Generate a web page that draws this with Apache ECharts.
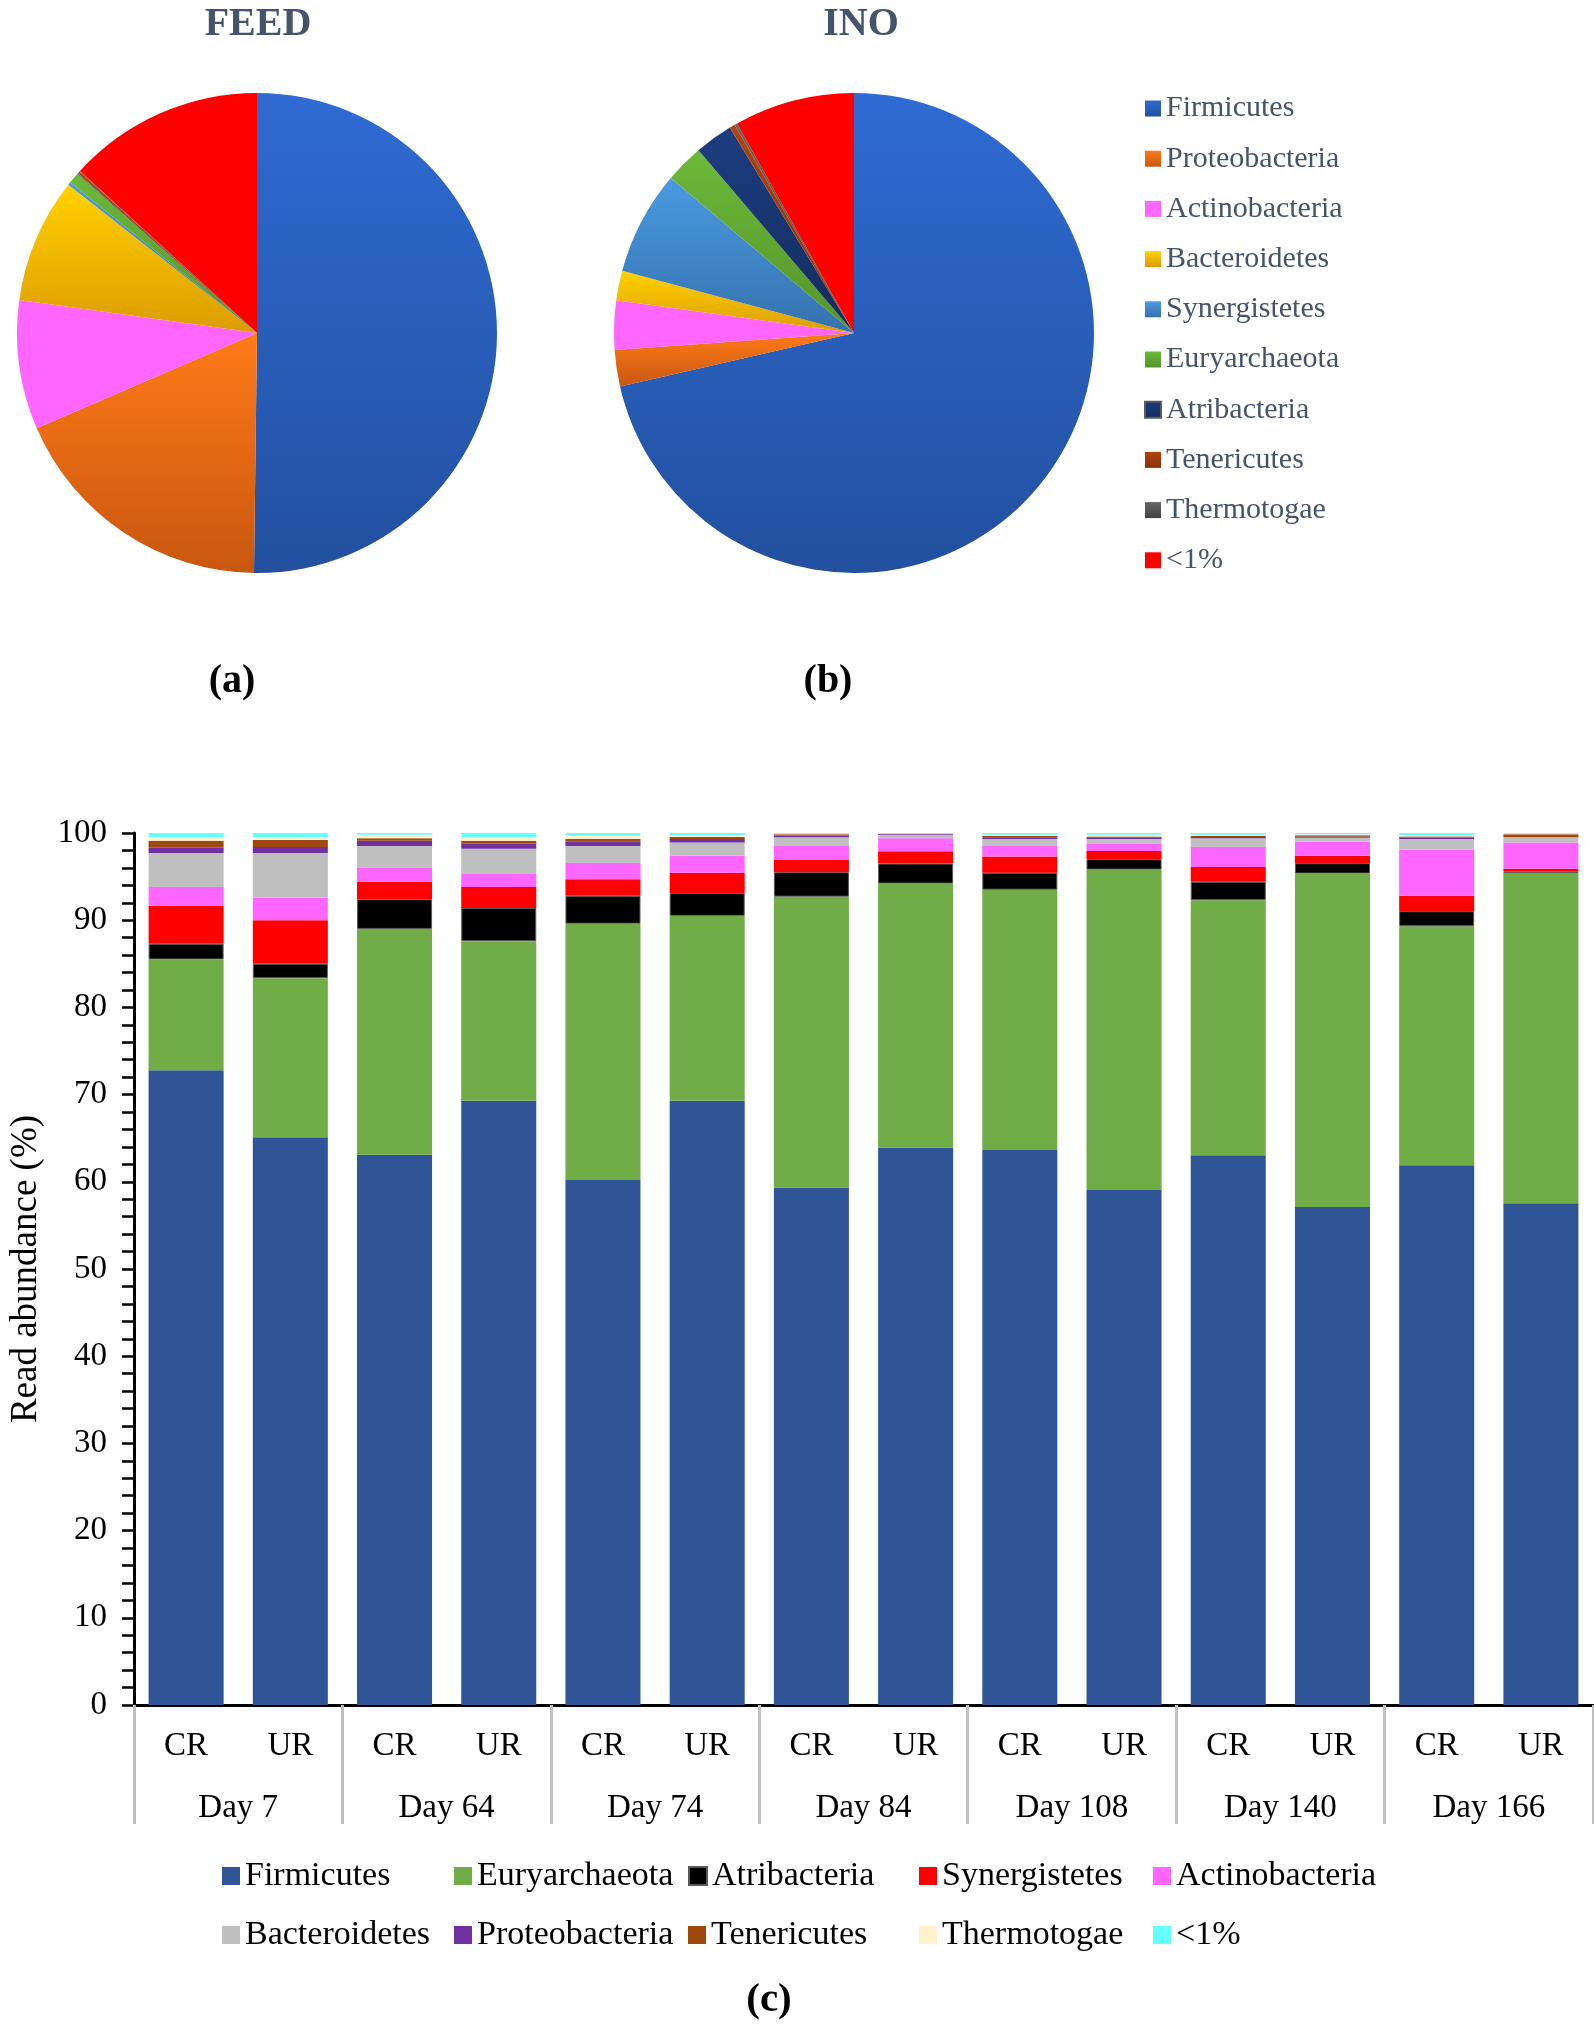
<!DOCTYPE html>
<html>
<head>
<meta charset="utf-8">
<script src="https://cdn.jsdelivr.net/npm/echarts@6/dist/echarts.min.js"></script>
<style>
html,body{margin:0;padding:0;background:#fff;}
#chart{width:1594px;height:2024px;}
</style>
</head>
<body>
<div id="chart"></div>
<script>
// ---------- Pie data (a) FEED and (b) INO ----------
const pieNames = ['Firmicutes','Proteobacteria','Actinobacteria','Bacteroidetes','Synergistetes','Euryarchaeota','Atribacteria','Tenericutes','Thermotogae','<1%'];
const feedValues = [50.2, 18.3, 8.7, 8.4, 0.2, 0.75, 0.05, 0.15, 0.05, 13.2];
const inoValues  = [71.4, 2.45, 3.3, 2.0, 7.0, 2.6, 2.57, 0.37, 0.18, 8.1];

// ---------- Stacked bar data (c) ----------
const sampleLabels = ['CR','UR','CR','UR','CR','UR','CR','UR','CR','UR','CR','UR','CR','UR'];
const dayLabels = ['Day 7','Day 64','Day 74','Day 84','Day 108','Day 140','Day 166'];
const barNames = ['Firmicutes','Euryarchaeota','Atribacteria','Synergistetes','Actinobacteria','Bacteroidetes','Proteobacteria','Tenericutes','Thermotogae','<1%'];
const firmicutes     = [72.8, 65.1, 63.1, 69.3, 60.2, 69.3, 59.35, 63.9, 63.65, 59.05, 63.05, 57.1, 61.9, 57.55];
const euryarchaeota  = [12.7, 18.25, 25.9, 18.3, 29.4, 21.2, 33.35, 30.3, 29.85, 36.75, 29.25, 38.25, 27.4, 37.85];
const atribacteria   = [1.8, 1.65, 3.4, 3.8, 3.2, 2.6, 2.8, 2.3, 1.95, 1.2, 2.1, 1.2, 1.75, 0.2];
const synergistetes  = [4.35, 5.0, 2.0, 2.4, 1.9, 2.35, 1.4, 1.4, 1.85, 0.95, 1.7, 0.85, 1.75, 0.3];
const actinobacteria = [2.15, 2.6, 1.6, 1.5, 1.85, 1.95, 1.7, 1.5, 1.2, 0.8, 2.3, 1.6, 5.3, 3.0];
const bacteroidetes  = [3.9, 5.1, 2.5, 2.9, 1.95, 1.5, 0.9, 0.4, 0.8, 0.55, 1.0, 0.45, 1.2, 0.6];
const proteobacteria = [0.6, 0.7, 0.6, 0.6, 0.5, 0.4, 0.2, 0.1, 0.2, 0.2, 0.15, 0.15, 0.15, 0.05];
const tenericutes    = [0.8, 0.8, 0.3, 0.3, 0.3, 0.25, 0.15, 0.05, 0.15, 0.1, 0.1, 0.15, 0.15, 0.3];
const thermotogae    = [0.4, 0.3, 0.4, 0.45, 0.4, 0.2, 0.05, 0.05, 0.15, 0.2, 0.15, 0.1, 0.15, 0.05];
const lessThan1      = [0.5, 0.5, 0.2, 0.45, 0.3, 0.25, 0.1, 0.15, 0.2, 0.2, 0.2, 0.15, 0.25, 0.1];
const barValues = [firmicutes, euryarchaeota, atribacteria, synergistetes, actinobacteria, bacteroidetes, proteobacteria, tenericutes, thermotogae, lessThan1];
const yTicks = [0,10,20,30,40,50,60,70,80,90,100];

// ---------- Styles ----------
const SERIF = '"Liberation Serif","Times New Roman",serif';
function vgrad(a, b){ return {type:'linear', x:0, y:0, x2:0, y2:1, colorStops:[{offset:0,color:a},{offset:1,color:b}]}; }
const pieColors = [
  vgrad('#2f6bd3','#22509f'),
  vgrad('#ff7a18','#c8570f'),
  '#ff66ff',
  vgrad('#ffd200','#dc9c00'),
  vgrad('#4a9ae2','#3672ad'),
  vgrad('#6cba38','#55942b'),
  vgrad('#1c3d80','#132c5e'),
  vgrad('#b0440c','#8a3307'),
  vgrad('#666666','#444444'),
  '#ff0000'
];
const barColors = ['#2f5597','#70ad47','#000000','#ff0000','#ff66ff','#bfbfbf','#7030a0','#9e480e','#fff2cc','#66ffff'];

function pieSeries(values, cx){
  return {
    type:'pie', center:[cx, 333], radius:240, startAngle:90, clockwise:true,
    label:{show:false}, labelLine:{show:false}, silent:true,
    emphasis:{disabled:true},
    itemStyle:{borderWidth:0},
    data: pieNames.map((n,i)=>({name:n, value:values[i], itemStyle:{color:pieColors[i]}}))
  };
}

const barLegendPos = [
  [222,1876],[454,1876],[688,1876],[919,1876],[1153,1876],
  [222,1935],[454,1935],[688,1935],[919,1935],[1153,1935]
];
const legends = [{
  orient:'vertical', left:1144, top:93.5, padding:0, itemWidth:16, itemHeight:16, itemGap:20.2,
  selectedMode:false, icon:'rect',
  textStyle:{fontFamily:SERIF, fontSize:30, color:'#44546a', lineHeight:30},
  data: pieNames.map((n,i)=>({name:n, icon:'rect', itemStyle:{color:pieColors[i]}}))
}];
barNames.forEach((n,i)=>{
  legends.push({
    left:barLegendPos[i][0], top:barLegendPos[i][1]-17, padding:0, itemWidth:18, itemHeight:18,
    selectedMode:false, icon:'rect',
    textStyle:{fontFamily:SERIF, fontSize:34, color:'#000', lineHeight:34},
    data:[{name:n, icon:'rect', itemStyle:{color:barColors[i]}}]
  });
});

const series = [pieSeries(feedValues, 257), pieSeries(inoValues, 854)];
barNames.forEach((n,i)=>{
  series.push({
    type:'bar', name:n, stack:'total', barWidth:'72%', xAxisIndex:0, yAxisIndex:0,
    silent:true, emphasis:{disabled:true},
    itemStyle:{color:barColors[i], borderColor: i===2 ? '#5a5a5a' : null, borderWidth: i===2 ? 1 : 0},
    data: barValues[i]
  });
});

const option = {
  animation:false,
  backgroundColor:'#fff',
  textStyle:{fontFamily:SERIF},
  grid:{left:130, top:833, width:1463, height:872, containLabel:false},
  legend: legends,
  xAxis:[
    {type:'category', data:sampleLabels, position:'bottom',
     axisLine:{lineStyle:{color:'#000', width:3}}, axisTick:{show:false},
     axisLabel:{interval:0, fontSize:33, color:'#000', fontFamily:SERIF, margin:25}},
    {type:'category', data:dayLabels, position:'bottom',
     axisLine:{show:false},
     axisTick:{show:true, length:119, lineStyle:{color:'#bfbfbf', width:3}},
     axisLabel:{interval:0, fontSize:33, color:'#000', fontFamily:SERIF, margin:87},
     splitLine:{show:false}}
  ],
  yAxis:{type:'value', min:yTicks[0], max:yTicks[yTicks.length-1], interval:yTicks[1]-yTicks[0],
    name:'Read abundance (%)', nameLocation:'middle', nameGap:89, nameRotate:90,
    nameTextStyle:{fontSize:37, color:'#000', fontFamily:SERIF},
    axisLine:{show:true, lineStyle:{color:'#000', width:3}},
    axisTick:{show:true, length:12, lineStyle:{color:'#000', width:2.5}},
    minorTick:{show:true, splitNumber:5, length:12, lineStyle:{color:'#000', width:2.5}},
    splitLine:{show:false},
    axisLabel:{fontSize:33, color:'#000', fontFamily:SERIF, margin:27}
  },
  graphic:[
    {type:'text', x:258, y:25, style:{text:'FEED', fill:'#44546a', font:'bold 40px "Liberation Serif"', textAlign:'center', textVerticalAlign:'middle', align:'center', verticalAlign:'middle'}},
    {type:'text', x:861, y:25, style:{text:'INO', fill:'#44546a', font:'bold 40px "Liberation Serif"', textAlign:'center', textVerticalAlign:'middle', align:'center', verticalAlign:'middle'}},
    {type:'text', x:232, y:682, style:{text:'(a)', fill:'#000', font:'bold 40px "Liberation Serif"', textAlign:'center', textVerticalAlign:'middle', align:'center', verticalAlign:'middle'}},
    {type:'text', x:828, y:682, style:{text:'(b)', fill:'#000', font:'bold 40px "Liberation Serif"', textAlign:'center', textVerticalAlign:'middle', align:'center', verticalAlign:'middle'}},
    {type:'text', x:769, y:2000, style:{text:'(c)', fill:'#000', font:'bold 41px "Liberation Serif"', textAlign:'center', textVerticalAlign:'middle', align:'center', verticalAlign:'middle'}}
  ],
  series: series
};

const chart = echarts.init(document.getElementById('chart'), null, {renderer:'canvas', width:1594, height:2024});
chart.setOption(option);
</script>
</body>
</html>
